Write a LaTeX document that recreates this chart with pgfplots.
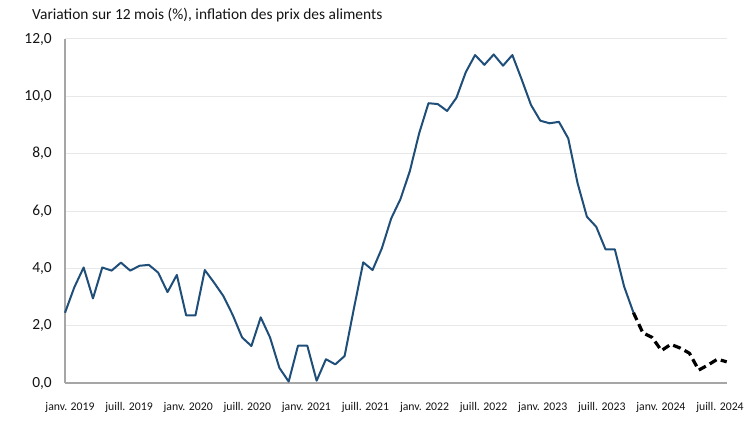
\documentclass[border=0pt]{standalone}
\usepackage{fontspec}
\setmainfont{Carlito}
\usepackage{pgfplots}
\pgfplotsset{compat=1.18}
\definecolor{lineblue}{RGB}{31,78,121}
\definecolor{axisgray}{RGB}{166,166,166}
\definecolor{gridgray}{RGB}{232,232,232}
\definecolor{txt}{RGB}{20,20,20}
\begin{document}
\begin{tikzpicture}[x=1bp,y=1bp]
\path[use as bounding box] (0,0) rectangle (750,422);
\node[anchor=west, font=\fontsize{15.5}{18}\selectfont, text=txt, inner sep=0] at (32,407) {Variation sur 12 mois (\%), inflation des prix des aliments};
\begin{axis}[at={(65bp,39bp)}, anchor=south west, scale only axis,
  width=661.7bp, height=344bp,
  xmin=0, xmax=71, ymin=0, ymax=12,
  axis x line=bottom, axis y line=left,
  x axis line style={axisgray, line width=2bp, -},
  y axis line style={axisgray, line width=1.2bp, -},
  major tick length=0pt,
  ytick={0,2,4,6,8,10,12},
  yticklabels={{0,0},{2,0},{4,0},{6,0},{8,0},{10,0},{12,0}},
  ymajorgrids, grid style={gridgray, line width=1bp},
  xtick={0.54,6.88,13.22,19.56,25.90,32.24,38.58,44.92,51.26,57.60,63.94,70.28},
  xticklabels={janv. 2019,juill. 2019,janv. 2020,juill. 2020,janv. 2021,juill. 2021,janv. 2022,juill. 2022,janv. 2023,juill. 2023,janv. 2024,juill. 2024},
  xticklabel style={anchor=center, yshift=-24bp, font=\fontsize{11.8}{14}\selectfont, text=txt},
  yticklabel style={anchor=east, inner sep=0pt, xshift=-13bp, font=\fontsize{15.5}{18}\selectfont, text=txt},
  clip=false,
]
\addplot[lineblue, line width=2bp, line join=round] coordinates {
(0,2.45)(1,3.34)(2,4.03)(3,2.95)(4,4.03)(5,3.92)(6,4.20)(7,3.92)(8,4.09)(9,4.12)
(10,3.85)(11,3.17)(12,3.77)(13,2.36)(14,2.36)(15,3.94)(16,3.50)(17,3.03)(18,2.37)(19,1.59)
(20,1.29)(21,2.29)(22,1.59)(23,0.53)(24,0.05)(25,1.30)(26,1.30)(27,0.08)(28,0.83)(29,0.65)
(30,0.94)(31,2.60)(32,4.21)(33,3.94)(34,4.70)(35,5.74)(36,6.42)(37,7.39)(38,8.71)(39,9.76)
(40,9.73)(41,9.49)(42,9.95)(43,10.84)(44,11.44)(45,11.10)(46,11.46)(47,11.07)(48,11.44)(49,10.59)
(50,9.70)(51,9.15)(52,9.06)(53,9.11)(54,8.53)(55,6.97)(56,5.80)(57,5.45)(58,4.66)(59,4.66)
(60,3.36)(61,2.45)
};
\addplot[black, line width=3.2bp, dash pattern=on 8bp off 4.5bp, line join=round] coordinates {
(61,2.45)(62,1.75)(63,1.59)(64,1.13)(65,1.35)(66,1.22)(67,1.04)(68,0.45)(69,0.63)(70,0.83)(71,0.74)
};
\end{axis}
\end{tikzpicture}
\end{document}
